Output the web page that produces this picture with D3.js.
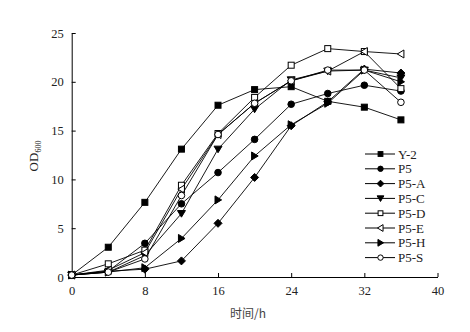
<!DOCTYPE html>
<html><head><meta charset="utf-8">
<script src="https://cdn.jsdelivr.net/npm/d3@7"></script>
<style>body{margin:0;background:#fff}svg{display:block}</style>
</head><body>
<svg id="c" width="470" height="332"></svg>
<script>
const times = [0,4,8,12,16,20,24,28,32,36];
const seriesNames = ["Y-2","P5","P5-A","P5-C","P5-D","P5-E","P5-H","P5-S"];
const Y2   = [0.2,3.05,7.65,13.1,17.6,19.2,19.5,18.0,17.4,16.1];
const P5   = [0.2,0.6,3.45,7.5,10.7,14.1,17.7,18.8,19.65,19.05];
const P5A  = [0.2,0.6,0.8,1.65,5.5,10.2,15.5,17.95,21.3,20.9];
const P5C  = [0.2,0.5,2.2,6.5,13.1,17.2,20.2,21.1,21.2,20.4];
const P5D  = [0.2,1.35,2.75,9.4,14.7,18.4,21.7,23.4,23.1,19.3];
const P5E  = [0.2,0.7,2.5,9.0,14.6,17.8,20.1,21.1,23.1,22.85];
const P5H  = [0.2,0.5,0.95,3.95,7.9,12.4,15.6,17.8,21.2,20.0];
const P5S  = [0.2,0.5,1.85,8.35,14.6,17.8,20.1,21.2,21.2,17.9];
const seriesValues = [Y2,P5,P5A,P5C,P5D,P5E,P5H,P5S];
const markers = ["squareF","circleF","diamondF","triDownF","squareO","triLeftO","triRightF","circleO"];
const xTicks = [0,8,16,24,32,40];
const yTicks = [0,5,10,15,20,25];

const svg = d3.select("#c");
const x = d3.scaleLinear().domain([0,40]).range([71.7,437.5]);
const y = d3.scaleLinear().domain([0,25]).range([277,33]);
const serif = "'Liberation Serif','Times New Roman',serif";

// axes
const gx = svg.append("g").attr("transform","translate(0,277)")
  .call(d3.axisBottom(x).tickValues(xTicks).tickSizeInner(-4).tickSizeOuter(0).tickPadding(9));
const gy = svg.append("g").attr("transform","translate(71.7,0)")
  .call(d3.axisLeft(y).tickValues(yTicks).tickSizeInner(-4).tickSizeOuter(0).tickPadding(8));
[gx,gy].forEach(g=>{
  g.selectAll("path,line").attr("stroke","#000").attr("stroke-width",1);
  g.selectAll("text").attr("font-family",serif).attr("font-size",12.5).attr("fill","#222");
});

function drawMarker(g, type, cx, cy, s){
  const fill = type.endsWith("F") ? "#000" : "#fff";
  const t = type.slice(0,-1);
  let el;
  if(t==="square") el = g.append("rect").attr("x",cx-s).attr("y",cy-s).attr("width",2*s).attr("height",2*s);
  else if(t==="circle") el = g.append("circle").attr("cx",cx).attr("cy",cy).attr("r",s+0.3);
  else {
    let pts;
    const r = s+1;
    if(t==="diamond") pts=[[cx,cy-r],[cx+r,cy],[cx,cy+r],[cx-r,cy]];
    else if(t==="triDown") pts=[[cx-r,cy-r*0.75],[cx+r,cy-r*0.75],[cx,cy+r*0.9]];
    else if(t==="triLeft") pts=[[cx-r*0.9,cy],[cx+r*0.75,cy-r],[cx+r*0.75,cy+r]];
    else if(t==="triRight") pts=[[cx+r*0.9,cy],[cx-r*0.75,cy-r],[cx-r*0.75,cy+r]];
    el = g.append("polygon").attr("points",pts.map(p=>p.join(",")).join(" "));
  }
  el.attr("fill",fill).attr("stroke","#000").attr("stroke-width",1);
}

const line = d3.line().x((d,i)=>x(times[i])).y(d=>y(d));
seriesValues.forEach((vals,k)=>{
  const g = svg.append("g");
  g.append("path").attr("d",line(vals)).attr("fill","none").attr("stroke","#000").attr("stroke-width",0.9);
  vals.forEach((v,i)=>drawMarker(g, markers[k], x(times[i]), y(v), 3));
});

// legend
const leg = svg.append("g");
seriesNames.forEach((n,k)=>{
  const ly = 154 + k*14.8;
  leg.append("line").attr("x1",365).attr("x2",395).attr("y1",ly).attr("y2",ly).attr("stroke","#000").attr("stroke-width",1);
  drawMarker(leg, markers[k], 380.5, ly, 2.4);
  leg.append("text").attr("x",398).attr("y",ly).attr("dy","0.35em")
    .attr("font-family",serif).attr("font-size",13).attr("fill","#222").text(n);
});

// axis titles
svg.append("text").attr("x",248).attr("y",318).attr("text-anchor","middle")
  .attr("font-family","'Noto Sans CJK SC',"+serif).attr("font-size",12).attr("fill","#444")
  .text("时间/h");
const yl = svg.append("text").attr("transform","translate(38,156) rotate(-90)")
  .attr("text-anchor","middle").attr("font-family",serif).attr("font-size",13).attr("fill","#222");
yl.append("tspan").text("OD");
yl.append("tspan").attr("font-size",8).attr("dy",3).text("600");
</script>
</body></html>
